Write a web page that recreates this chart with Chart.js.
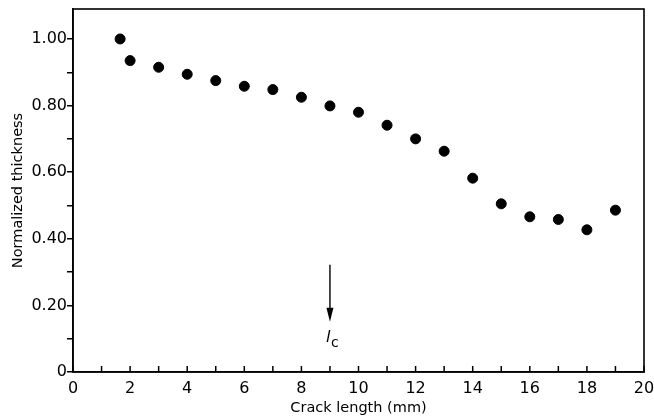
<!DOCTYPE html>
<html>
<head>
<meta charset="utf-8">
<script src="https://cdn.jsdelivr.net/npm/chart.js@4"></script>
<style>
  html, body { margin: 0; padding: 0; background: #fff; }
  #wrap { width: 654px; height: 417px; }
</style>
</head>
<body>
<div id="wrap"><canvas id="chart"></canvas></div>
<script>
// crack length (mm) and normalized thickness
const crackLength = [1.65, 2, 3, 4, 5, 6, 7, 8, 9, 10, 11, 12, 13, 14, 15, 16, 17, 18, 19];
const thickness = [1.00, 0.935, 0.915, 0.894, 0.875, 0.858, 0.848, 0.825, 0.799, 0.780,
                   0.741, 0.700, 0.663, 0.582, 0.505, 0.466, 0.458, 0.427, 0.486];

const xTicks = [0, 1, 2, 3, 4, 5, 6, 7, 8, 9, 10, 11, 12, 13, 14, 15, 16, 17, 18, 19, 20];
const yTicks = [0, 0.1, 0.2, 0.3, 0.4, 0.5, 0.6, 0.7, 0.8, 0.9, 1.0];

// critical crack length marker (arrow pointing down at l_c)
const lcX = 9;
const lcArrow = [0.322, 0.151];
const lcLabelY = 0.09;

const FONT = "'DejaVu Sans', sans-serif";

// box around plot, inward x ticks, arrow + label
const extras = {
    id: 'extras',
    afterDraw(chart) {
        const { ctx, chartArea: a, scales: { x, y } } = chart;
        ctx.save();
        ctx.strokeStyle = '#000';
        ctx.lineWidth = 1.6;
        ctx.strokeRect(a.left, a.top, a.right - a.left, a.bottom - a.top);

        // inward ticks on x axis
        ctx.lineWidth = 1.5;
        x.ticks.forEach(t => {
            const px = x.getPixelForValue(t.value);
            ctx.beginPath();
            ctx.moveTo(px, a.bottom);
            ctx.lineTo(px, a.bottom - 6);
            ctx.stroke();
        });

        // arrow
        const ax = x.getPixelForValue(lcX);
        const y0 = y.getPixelForValue(lcArrow[0]);
        const y1 = y.getPixelForValue(lcArrow[1]);
        ctx.lineWidth = 1.4;
        ctx.beginPath();
        ctx.moveTo(ax, y0);
        ctx.lineTo(ax, y1 - 8);
        ctx.stroke();
        ctx.fillStyle = '#000';
        ctx.beginPath();
        ctx.moveTo(ax, y1);
        ctx.lineTo(ax - 3.5, y1 - 14);
        ctx.lineTo(ax + 3.5, y1 - 14);
        ctx.closePath();
        ctx.fill();

        // l_c label
        const ly = y.getPixelForValue(lcLabelY);
        ctx.textBaseline = 'alphabetic';
        ctx.textAlign = 'left';
        ctx.font = 'italic 16px ' + FONT;
        ctx.fillText('l', ax - 4, ly);
        ctx.font = '14px ' + FONT;
        ctx.fillText('c', ax + 1, ly + 5);
        ctx.restore();
    }
};

new Chart(document.getElementById('chart'), {
    type: 'scatter',
    data: {
        datasets: [{
            data: crackLength.map((v, i) => ({ x: v, y: thickness[i] })),
            backgroundColor: '#000',
            borderColor: '#000',
            pointRadius: 5,
            pointHoverRadius: 5
        }]
    },
    options: {
        responsive: true,
        maintainAspectRatio: false,
        animation: false,
        layout: { padding: { top: 9, right: 10, left: 0, bottom: 0 } },
        plugins: { legend: { display: false }, tooltip: { enabled: false } },
        scales: {
            x: {
                type: 'linear',
                min: 0,
                max: 20,
                afterBuildTicks: s => { s.ticks = xTicks.map(v => ({ value: v })); },
                afterFit: s => { s.height = 45; s.paddingLeft = 0; s.paddingRight = 0; },
                grid: { display: false, drawTicks: false },
                border: { display: true, color: '#000', width: 1.6 },
                ticks: {
                    color: '#000',
                    padding: 7,
                    autoSkip: false,
                    maxRotation: 0,
                    font: { family: FONT, size: 16 },
                    callback: v => (v % 2 === 0 ? String(v) : '')
                },
                title: {
                    display: true,
                    text: 'Crack length (mm)',
                    color: '#000',
                    font: { family: FONT, size: 14.5 },
                    padding: { top: 1, bottom: 0 }
                }
            },
            y: {
                min: 0,
                max: 1.09,
                afterBuildTicks: s => { s.ticks = yTicks.map(v => ({ value: v })); },
                afterFit: s => { s.width = 73; s.paddingTop = 0; s.paddingBottom = 0; },
                grid: { drawOnChartArea: false, drawTicks: true, tickLength: 6, color: '#000', lineWidth: 1.5 },
                border: { display: true, color: '#000', width: 1.6 },
                ticks: {
                    color: '#000',
                    padding: 0,
                    autoSkip: false,
                    font: { family: FONT, size: 16 },
                    callback: v => {
                        const k = Math.round(v * 10);
                        if (k === 0) return '0';
                        return k % 2 === 0 ? (k / 10).toFixed(2) : '';
                    }
                },
                title: {
                    display: true,
                    text: 'Normalized thickness',
                    color: '#000',
                    font: { family: FONT, size: 14.5 },
                    padding: { top: 10, bottom: 0 }
                }
            }
        }
    },
    plugins: [extras]
});
</script>
</body>
</html>
